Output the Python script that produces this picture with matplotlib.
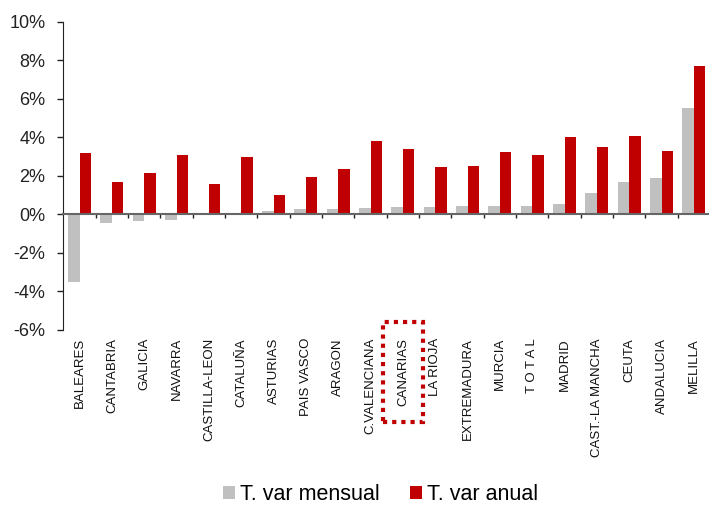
import matplotlib
matplotlib.use("Agg")
import matplotlib.pyplot as plt
import matplotlib.transforms as mtransforms
from matplotlib.patches import Rectangle
import numpy as np

plt.rcParams["font.family"] = ["Liberation Sans", "DejaVu Sans"]

# Data (%)
regions = [
    "BALEARES", "CANTABRIA", "GALICIA", "NAVARRA", "CASTILLA-LEON",
    "CATALUÑA", "ASTURIAS", "PAIS VASCO", "ARAGON", "C.VALENCIANA",
    "CANARIAS", "LA RIOJA", "EXTREMADURA", "MURCIA", "T O T A L",
    "MADRID", "CAST.-LA MANCHA", "CEUTA", "ANDALUCIA", "MELILLA",
]
var_mensual = [
    -3.51, -0.44, -0.35, -0.30, -0.06, 0.02, 0.15, 0.25, 0.25, 0.32,
    0.36, 0.39, 0.42, 0.44, 0.43, 0.53, 1.12, 1.68, 1.90, 5.54,
]
var_anual = [
    3.20, 1.66, 2.13, 3.06, 1.59, 2.96, 0.98, 1.94, 2.35, 3.81,
    3.41, 2.47, 2.49, 3.22, 3.08, 4.02, 3.51, 4.08, 3.29, 7.73,
]
y_ticks = [-6, -4, -2, 0, 2, 4, 6, 8, 10]

fig = plt.figure(figsize=(7.09, 5.05), dpi=100)
ax = fig.add_axes([0.0895, 0.3475, 0.912, 0.609])

x = np.arange(len(regions))
w = 0.355
ax.bar(x - w / 2, var_mensual, width=w, color="#C0C0C0", label="T. var mensual")
ax.bar(x + w / 2, var_anual, width=w, color="#C00000", label="T. var anual")

ax.set_xlim(-0.5, len(regions) - 0.5)
ax.set_ylim(-6, 10)
ax.set_yticks(y_ticks)
ax.set_yticklabels([f"{v}%" for v in y_ticks], fontsize=13, color="#222222")
ax.tick_params(axis="y", direction="out", length=4, width=1, colors="#222222", pad=9)

# x-axis sits at zero, ticks between categories
ax.spines["top"].set_visible(False)
ax.spines["right"].set_visible(False)
ax.spines["bottom"].set_position(("data", 0))
ax.spines["bottom"].set_color("#666666")
ax.spines["bottom"].set_linewidth(1.5)
ax.spines["left"].set_color("#222222")
ax.set_xticks(np.arange(len(regions)) + 0.5)
ax.set_xticklabels([])
ax.tick_params(axis="x", direction="out", length=3, width=1, colors="#222222")

# category labels below the plot area
trans = mtransforms.blended_transform_factory(ax.transData, fig.transFigure)
for xi, name in zip(x, regions):
    ax.text(xi, 1 - 338 / 505, name, rotation=90, ha="center", va="top",
            fontsize=9.5, color="#111111", transform=trans, clip_on=False)

# dotted box around CANARIAS
box = Rectangle((382.5 / 709, 1 - 422 / 505), 40 / 709, 100 / 505,
                transform=fig.transFigure, fill=False, edgecolor="#C00000",
                linestyle=(0, (1, 1.2)), linewidth=3)
fig.patches.append(box)

fig.legend(loc="center", bbox_to_anchor=(0.537, 1 - 495 / 505), ncol=2,
           frameon=False, fontsize=15.5, handlelength=0.55, handleheight=0.55,
           handletextpad=0.25, columnspacing=1.4)

fig.savefig("out.png", dpi=100)
